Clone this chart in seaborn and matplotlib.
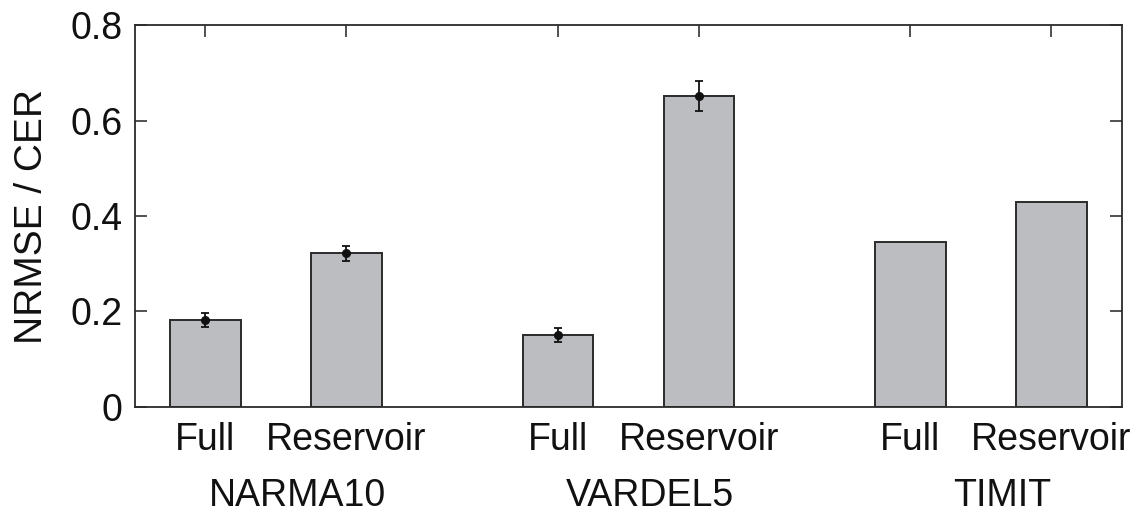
import numpy as np
import pandas as pd
import matplotlib
matplotlib.use("Agg")
import matplotlib.pyplot as plt
import matplotlib.transforms as mtransforms
import seaborn as sns

# values
tasks = ["NARMA10", "VARDEL5", "TIMIT"]
readouts = ["Full", "Reservoir"]
full_vals = [0.182, 0.151, 0.346]
reservoir_vals = [0.322, 0.651, 0.429]
full_err = [0.015, 0.015, np.nan]        # TIMIT has no error bars
reservoir_err = [0.016, 0.031, np.nan]
y_ticks = [0, 0.2, 0.4, 0.6, 0.8]
y_ticklabels = ["0", "0.2", "0.4", "0.6", "0.8"]

# build long table, bars of one task side by side, wider gap between tasks
group_step = 2.5
rows = []
for g, task in enumerate(tasks):
    for c, (name, vals, errs) in enumerate(zip(readouts, [full_vals, reservoir_vals],
                                               [full_err, reservoir_err])):
        rows.append({"task": task, "readout": name, "pos": g * group_step + c,
                     "value": vals[g], "err": errs[g]})
df = pd.DataFrame(rows)

sns.set_theme(style="ticks")
plt.rcParams["font.family"] = ["Liberation Sans", "DejaVu Sans"]
plt.rcParams["text.color"] = "#111111"
plt.rcParams["xtick.labelcolor"] = "#111111"
plt.rcParams["ytick.labelcolor"] = "#111111"
plt.rcParams["axes.labelcolor"] = "#111111"

fig = plt.figure(figsize=(11.43, 5.18), dpi=100)
ax = fig.add_axes([0.1181, 0.2143, 0.8635, 0.7374])

sns.barplot(data=df, x="pos", y="value", native_scale=True, width=0.5,
            color="#bcbdc1", saturation=1, edgecolor="#2b2b2b", linewidth=1.4,
            errorbar=None, ax=ax)

err_df = df.dropna(subset=["err"])
ax.errorbar(err_df["pos"], err_df["value"], yerr=err_df["err"], fmt="o", ms=5.5,
            color="#111111", ecolor="#111111", elinewidth=1.3, capsize=3, capthick=1.3)

ax.set_xlim(-0.5, 6.5)
ax.set_ylim(0, 0.8)
ax.set_xticks(df["pos"])
ax.set_xticklabels(df["readout"])
ax.set_yticks(y_ticks)
ax.set_yticklabels(y_ticklabels)
ax.set_xlabel("")
ax.set_ylabel("NRMSE / CER", fontsize=28, labelpad=15)

ax.tick_params(direction="in", length=8.5, width=1.1, top=True, right=True,
               labelsize=27, color="#222222")
ax.tick_params(axis="y", pad=9)
ax.tick_params(axis="x", pad=11)
for sp in ax.spines.values():
    sp.set_visible(True)
    sp.set_color("#2b2b2b")
    sp.set_linewidth(1.3)

# task names under each pair
trans = mtransforms.blended_transform_factory(ax.transData, ax.transAxes)
for g, task in enumerate(tasks):
    center = g * group_step + 0.5 + 0.15
    ax.text(center, -0.232, task, transform=trans, ha="center", va="center", fontsize=27)

fig.savefig("out.png", dpi=100)
